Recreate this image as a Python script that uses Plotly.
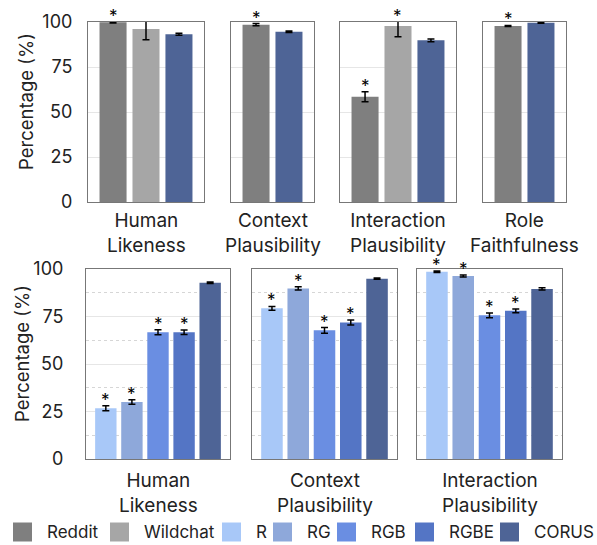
import plotly.graph_objects as go

# ---------------- data ----------------
models = ["Reddit", "Wildchat", "R", "RG", "RGB", "RGBE", "CORUS"]
model_colors = ["#7f7f7f", "#a6a6a6", "#a8c8f8", "#8ea8da", "#6a8ee2", "#5475c5", "#4e6496"]

top_titles = ["Human<br>Likeness", "Context<br>Plausibility", "Interaction<br>Plausibility", "Role<br>Faithfulness"]
top_models = [["Reddit", "Wildchat", "CORUS"], ["Reddit", "CORUS"], ["Reddit", "Wildchat", "CORUS"], ["Reddit", "CORUS"]]
top_values = [[99.8, 96.1, 93.2], [98.5, 94.6], [58.5, 97.8, 89.8], [97.8, 99.6]]
top_errors = [[0.3, 6.0, 0.5], [0.6, 0.4], [2.8, 6.0, 0.8], [0.3, 0.3]]
top_star = [[True, False, False], [True, False], [True, True, False], [True, False]]

bot_titles = ["Human<br>Likeness", "Context<br>Plausibility", "Interaction<br>Plausibility"]
bot_models = ["R", "RG", "RGB", "RGBE", "CORUS"]
bot_values = [[26.7, 30.0, 66.7, 66.7, 92.8], [79.3, 89.8, 67.7, 71.8, 94.9], [98.6, 96.3, 75.6, 78.0, 89.5]]
bot_errors = [[1.3, 1.2, 1.3, 1.2, 0.4], [1.0, 0.9, 1.5, 1.3, 0.3], [0.4, 0.5, 1.2, 1.0, 0.6]]
bot_star = [[True, True, True, True, False], [True, True, True, True, False], [True, True, True, True, False]]

y_ticks = [0, 25, 50, 75, 100]

# ---------------- layout geometry (pixels) ----------------
W, H = 597, 545
FONT = "Inter"
TXT = "#222"
top_px = [(88, 204), (231, 314), (340, 456), (483, 566)]
top_py = (22, 202)
bot_px = [(86, 230), (252, 397), (417, 562)]
bot_py = (269, 459)


def px(x):
    return x / W


def py(y):
    return 1 - y / H


color_of = dict(zip(models, model_colors))
fig = go.Figure()
layout = dict(
    template="none",
    width=W, height=H, margin=dict(l=0, r=0, t=0, b=0, autoexpand=False),
    paper_bgcolor="white", plot_bgcolor="white", showlegend=False,
    bargap=0.18, font=dict(family=FONT, color=TXT),
)
annotations = []
shapes = []

panels = []
for i in range(4):
    panels.append(("top", i, top_px[i], top_py, top_models[i], top_values[i], top_errors[i], top_star[i], top_titles[i]))
for i in range(3):
    panels.append(("bot", i, bot_px[i], bot_py, bot_models, bot_values[i], bot_errors[i], bot_star[i], bot_titles[i]))

for k, (row, i, xr, yr, mods, vals, errs, stars, title) in enumerate(panels):
    n = k + 1
    xa = "x" if n == 1 else f"x{n}"
    ya = "y" if n == 1 else f"y{n}"
    fig.add_trace(go.Bar(
        x=mods, y=vals, xaxis=xa, yaxis=ya,
        marker=dict(color=[color_of[m] for m in mods], line=dict(width=0)),
        error_y=dict(type="data", array=errs, visible=True, color="black", thickness=1.5, width=3.5),
        hoverinfo="x+y",
    ))
    xkey = "xaxis" if n == 1 else f"xaxis{n}"
    ykey = "yaxis" if n == 1 else f"yaxis{n}"
    first = (i == 0)
    layout[xkey] = dict(
        domain=[px(xr[0]), px(xr[1])], anchor=ya, type="category", automargin=False,
        range=[-0.76, len(mods) - 0.24], showticklabels=False, ticks="",
        showline=True, linecolor="#777", linewidth=1, mirror=True, showgrid=False, zeroline=False,
    )
    ydict = dict(
        domain=[py(yr[1]), py(yr[0])], anchor=xa, range=[0, 100], automargin=False,
        tickvals=y_ticks, showticklabels=first, ticks="",
        tickfont=dict(size=18, family=FONT, color=TXT),
        ticklabelstandoff=11 if row == "top" else 18,
        showline=True, linecolor="#777", linewidth=1, mirror=True,
        showgrid=True, gridcolor="#e6e6e6", gridwidth=1, zeroline=False,
    )
    if row == "bot":
        ydict["minor"] = dict(dtick=12.5, tick0=0, showgrid=True, gridcolor="#d6d6d6", griddash="dot", gridwidth=1, ticks="")
    layout[ykey] = ydict

    # significance stars
    for m, v, e, s in zip(mods, vals, errs, stars):
        if s:
            annotations.append(dict(
                x=m, y=min(v + e, 100), xref=xa, yref=ya, text="*", showarrow=False,
                yanchor="middle", yshift=6, font=dict(size=17, color="black", family=FONT),
            ))

    # category label below each panel
    cy = 233 if row == "top" else 493
    annotations.append(dict(
        x=px((xr[0] + xr[1]) / 2), y=py(cy), xref="paper", yref="paper", text=title,
        showarrow=False, xanchor="center", yanchor="middle",
        font=dict(size=19, family=FONT, color=TXT),
    ))

# y-axis titles
for (cx, cy) in [(26, 102), (22, 354)]:
    annotations.append(dict(
        x=px(cx), y=py(cy), xref="paper", yref="paper", text="Percentage (%)", textangle=-90,
        showarrow=False, xanchor="center", yanchor="middle", font=dict(size=18.5, family=FONT, color=TXT),
    ))

# legend (manual, squares + labels)
leg_sq_x = [13, 110, 222, 273, 337, 415, 500]
leg_y = 532
for m, c, x0 in zip(models, model_colors, leg_sq_x):
    shapes.append(dict(type="rect", xref="paper", yref="paper",
                       x0=px(x0), x1=px(x0 + 19), y0=py(leg_y + 9.5), y1=py(leg_y - 9.5),
                       fillcolor=c, line=dict(width=0)))
    annotations.append(dict(
        x=px(x0 + 32), y=py(leg_y), xref="paper", yref="paper", text=m, showarrow=False,
        xanchor="left", yanchor="middle", font=dict(size=17, family=FONT, color=TXT),
    ))

layout["annotations"] = annotations
layout["shapes"] = shapes
fig.update_layout(**layout)
fig.write_html("out.html", config={"displayModeBar": False},
               post_script="document.body.style.margin='0';document.body.style.padding='0';")
